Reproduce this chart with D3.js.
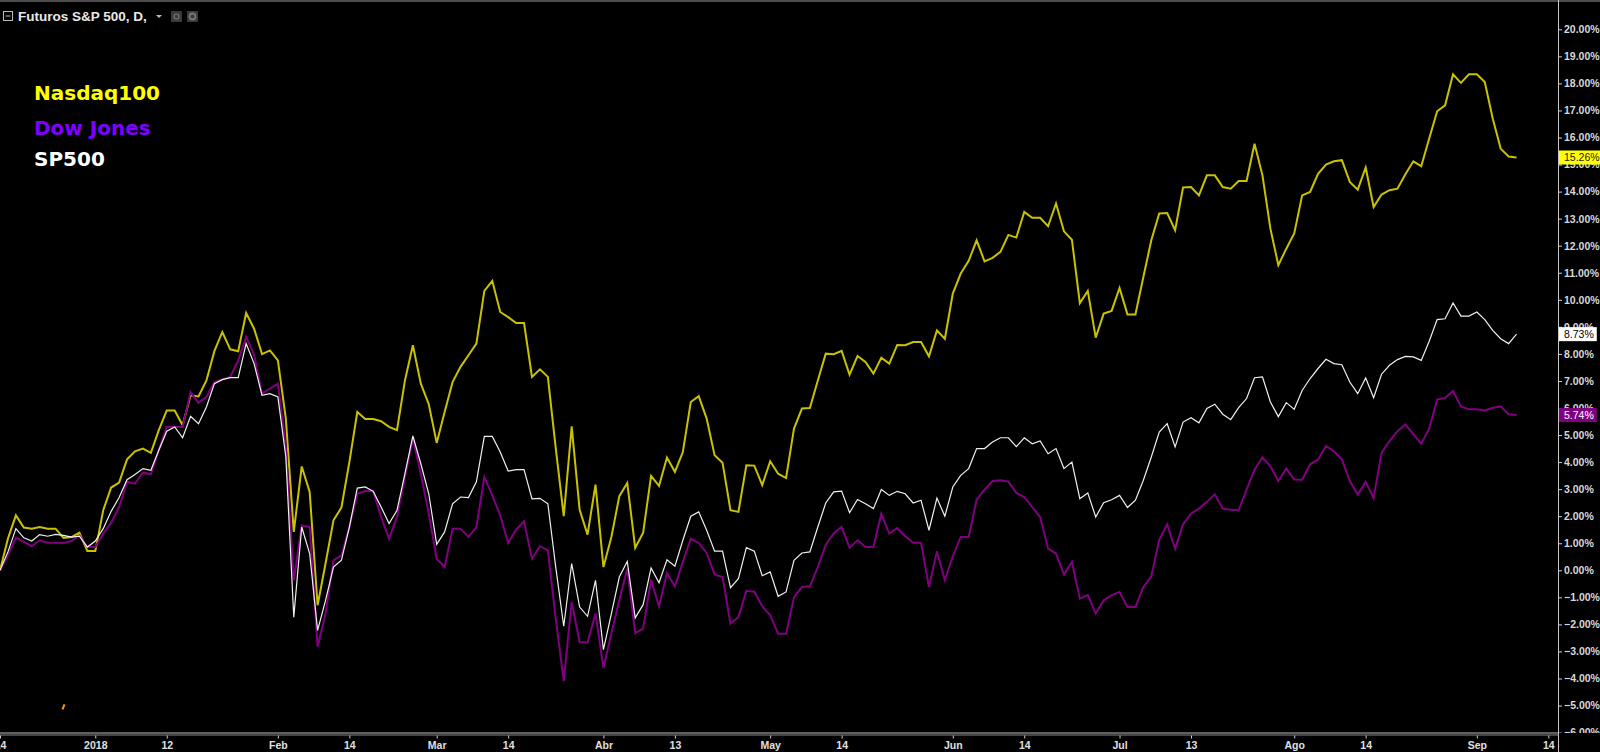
<!DOCTYPE html>
<html>
<head>
<meta charset="utf-8">
<script src="https://cdn.jsdelivr.net/npm/d3@7/dist/d3.min.js"></script>
<style>
html,body{margin:0;padding:0;background:#000;overflow:hidden;}
svg{display:block;}
</style>
</head>
<body>
<svg id="chart" width="1600" height="752"></svg>
<script>
// ---------- DATA (daily bars, % change vs first bar) ----------
const nasdaq100 = [0,1.17,2.03,1.58,1.54,1.6,1.54,1.54,1.2,1.23,1.39,0.71,0.71,2.22,3.06,3.24,4.1,4.4,4.5,4.34,
5.18,5.91,5.91,5.36,6.47,6.43,7.02,8.1,8.81,8.17,8.1,9.51,8.93,7.99,8.13,7.76,5.61,1.42,3.84,2.9,
-1.29,0.25,1.85,2.32,4.0,5.85,5.59,5.59,5.51,5.3,5.18,7.02,8.32,6.9,6.14,4.71,5.85,6.96,7.52,7.95,
8.38,10.33,10.7,9.55,9.36,9.14,9.14,7.15,7.43,7.15,4.5,2.0,5.32,2.24,1.32,3.17,0.12,1.23,2.74,3.23,
0.83,1.39,3.49,3.12,4.17,3.64,4.37,6.22,6.44,5.61,4.25,3.98,2.22,2.16,3.88,3.87,3.15,4.03,3.57,3.41,
5.24,5.98,6.0,7.02,8.01,7.99,8.11,7.23,7.92,7.7,7.27,7.86,7.64,8.33,8.32,8.44,8.44,7.91,8.87,8.56,
10.23,10.97,11.44,12.2,11.42,11.55,11.77,12.4,12.3,13.25,13.03,13.03,12.72,13.56,12.53,12.22,9.88,10.33,8.6,9.49,
9.59,10.44,9.46,9.46,10.84,12.2,13.19,13.21,12.57,14.15,14.17,13.86,14.6,14.6,14.17,14.11,14.39,14.39,15.77,14.6,
12.63,11.28,11.89,12.45,13.86,13.99,14.66,15.0,15.12,15.16,14.36,14.07,14.89,13.43,13.89,14.05,14.11,14.64,15.12,14.94,
15.96,16.97,17.19,18.34,18.02,18.34,18.34,18.05,16.7,15.59,15.3,15.26];

const sp500 = [0,0.68,1.54,1.2,1.08,1.32,1.26,1.33,1.29,1.23,1.26,0.86,1.08,1.54,2.18,2.69,3.35,3.54,3.76,3.7,
4.44,5.14,5.3,4.9,5.69,5.42,6.04,6.9,7.05,7.12,7.12,8.38,7.64,6.47,6.53,6.41,4.19,-1.73,1.6,0.62,
-2.22,-1.11,0.12,0.37,1.6,3.04,3.08,2.92,2.34,1.73,2.22,3.57,4.97,3.94,2.83,0.96,1.42,2.46,2.71,2.69,
3.27,4.95,4.95,4.37,3.67,3.72,3.72,2.64,2.66,2.46,0.1,-2.07,0.25,-1.36,-1.7,-0.37,-2.93,-1.6,-0.25,0.33,
-1.76,-1.27,0.09,-0.46,0.39,0.15,1.11,2.0,2.16,1.48,0.71,0.71,-0.64,-0.31,0.84,0.71,-0.2,-0.06,-0.96,-0.8,
0.37,0.64,0.68,1.6,2.49,2.9,2.93,2.13,2.62,2.46,2.28,2.99,2.77,2.92,2.83,2.49,2.59,1.48,2.67,2.0,
3.08,3.51,3.76,4.5,4.5,4.74,4.9,4.9,4.57,4.9,4.68,4.78,4.31,4.5,3.76,4.0,2.65,2.86,1.97,2.5,
2.61,2.77,2.32,2.59,3.33,4.19,5.11,5.42,4.56,5.48,5.64,5.45,5.98,6.14,5.77,5.57,6.01,6.35,7.12,7.15,
6.22,5.68,6.2,5.95,6.65,7.09,7.46,7.8,7.64,7.6,6.96,6.53,7.11,6.38,7.25,7.58,7.79,7.91,7.89,7.76,
8.47,9.27,9.3,9.88,9.4,9.4,9.55,9.27,8.87,8.56,8.38,8.73];

const dowJones = [0,0.55,1.21,1.05,0.89,1.11,1.02,1.02,1.01,1.08,1.29,0.86,0.86,1.36,1.75,2.34,3.27,3.2,3.61,3.55,
4.44,5.3,5.3,5.3,6.59,6.19,6.41,6.96,7.06,7.15,7.76,8.63,7.97,6.53,6.72,6.9,4.56,-0.37,1.66,1.6,
-2.83,-1.6,0.37,0.55,1.6,2.83,2.93,2.93,1.97,1.17,1.97,3.45,4.87,3.57,2.09,0.43,0.12,1.54,1.54,1.23,
1.6,3.45,2.77,2.03,1.01,1.5,1.81,0.43,0.89,0.74,-1.8,-4.1,-1.17,-2.65,-2.67,-1.6,-3.61,-2.34,-1.11,0.06,
-2.32,-2.16,-0.35,-1.33,-0.1,-0.59,0.31,1.17,1.01,0.64,-0.15,-0.25,-1.97,-1.73,-0.76,-0.79,-1.33,-1.66,-2.35,-2.35,
-0.99,-0.62,-0.59,0.12,0.95,1.36,1.6,0.83,1.11,0.86,0.86,2.09,1.36,1.56,1.26,1.02,1.02,-0.62,0.7,-0.37,
0.52,1.23,1.23,2.61,2.98,3.3,3.33,3.28,2.86,2.71,2.34,1.97,0.8,0.62,-0.16,0.31,-1.05,-0.92,-1.6,-1.11,
-0.92,-0.8,-1.36,-1.36,-0.62,-0.22,1.13,1.7,0.8,1.7,2.09,2.28,2.53,2.81,2.28,2.24,2.22,2.98,3.72,4.17,
3.84,3.3,3.76,3.36,3.35,3.92,4.09,4.6,4.4,4.1,3.3,2.8,3.27,2.67,4.34,4.78,5.14,5.39,5.03,4.68,
5.24,6.31,6.37,6.63,6.06,5.95,5.95,5.91,6.01,6.06,5.77,5.74];

// time-axis ticks: bar index and label
const xTickIndex  = [0,12,21,35,44,55,64,76,85,97,106,120,129,141,150,163,172,186,195];
const xTickLabels = ["14","2018","12","Feb","14","Mar","14","Abr","13","May","14","Jun","14","Jul","13","Ago","14","Sep","14"];

// price-scale ticks (%)
const yTickValues = d3.range(-6, 21, 1);

// legend
const legendNames  = ["Nasdaq100","Dow Jones","SP500"];
const legendColors = ["#ffff00","#8000ff","#ffffff"];

const headerTitle = "Futuros S&P 500, D,";

// stray event marker on the chart
const eventMarkIndex = [8];
const eventMarkValue = [-5.05];

// ---------- LAYOUT ----------
const W = 1600, H = 752;
const axisX = 1558;     // price scale line
const axisY = 733.5;    // time scale line
const svg = d3.select("#chart");

svg.append("rect").attr("width",W).attr("height",H).attr("fill","#000");

const x = d3.scaleLinear().domain([0, 191]).range([0, 191*7.94]);
const y = d3.scaleLinear().domain([-6, 20]).range([732.6, 29.3]);

const defs = svg.append("defs");
defs.append("clipPath").attr("id","plotClip")
  .append("rect").attr("x",0).attr("y",0).attr("width",axisX).attr("height",axisY);
defs.append("clipPath").attr("id","yAxisClip")
  .append("rect").attr("x",axisX-10).attr("y",0).attr("width",W-axisX+10).attr("height",axisY-0.5);

// top border
svg.append("rect").attr("x",0).attr("y",0).attr("width",W).attr("height",2).attr("fill","#4d4d4d");

const plot = svg.append("g").attr("clip-path","url(#plotClip)");

const line = d3.line().x((d,i)=>x(i)).y(d=>y(d));

const seriesDefs = [
  {data: nasdaq100, stroke:"#c9c200", width:2},
  {data: dowJones,  stroke:"#800080", width:2},
  {data: sp500,     stroke:"#f0f0f0", width:1.2}
];
seriesDefs.forEach(s=>{
  plot.append("path").datum(s.data)
    .attr("fill","none").attr("stroke",s.stroke).attr("stroke-width",s.width)
    .attr("stroke-linejoin","miter").attr("d",line);
});

// event marker
eventMarkIndex.forEach((idx,k)=>{
  const cx = x(idx), cy = y(eventMarkValue[k]);
  plot.append("line").attr("x1",cx-1).attr("y1",cy+2.5).attr("x2",cx+1).attr("y2",cy-2.5)
    .attr("stroke","#ff9800").attr("stroke-width",2);
});

// ---------- PRICE AXIS ----------
const yAxisWrap = svg.append("g").attr("clip-path","url(#yAxisClip)");
const yAxisG = yAxisWrap.append("g").attr("transform",`translate(${axisX},0)`);
yAxisG.call(d3.axisRight(y).tickValues(yTickValues).tickFormat(v=>d3.format(".2f")(v)+"%").tickSize(4).tickPadding(2));
yAxisG.select(".domain").remove();
yAxisG.selectAll(".tick line").attr("stroke","#cfcfcf");
yAxisG.selectAll(".tick text").attr("fill","#d8d8d8")
  .style("font-family","'Liberation Sans', Arial, sans-serif").style("font-size","10.5px").style("font-weight","bold");
svg.append("line").attr("x1",axisX+0.5).attr("x2",axisX+0.5).attr("y1",0).attr("y2",H)
  .attr("stroke","#c8c8c8").attr("stroke-width",1);

// ---------- TIME AXIS ----------
svg.append("line").attr("x1",0).attr("x2",axisX).attr("y1",axisY-0.5).attr("y2",axisY-0.5).attr("stroke","#bdbdbd").attr("stroke-width",1);
svg.append("line").attr("x1",0).attr("x2",axisX).attr("y1",axisY+1.5).attr("y2",axisY+1.5).attr("stroke","#8a8a8a").attr("stroke-width",1);
const xAxisG = svg.append("g").attr("transform",`translate(0,${axisY+2})`);
xAxisG.call(d3.axisBottom(x).tickValues(xTickIndex).tickFormat((d,i)=>xTickLabels[i]).tickSize(3).tickPadding(3));
xAxisG.select(".domain").remove();
xAxisG.selectAll(".tick line").attr("stroke","#cfcfcf");
xAxisG.selectAll(".tick text").attr("fill","#e0e0e0")
  .style("font-family","'Liberation Sans', Arial, sans-serif").style("font-size","10.5px").style("font-weight","bold");

// ---------- LAST-VALUE LABELS ----------
const lastLabels = [
  {v: nasdaq100[nasdaq100.length-1], bg:"#ffff00", fg:"#202020"},
  {v: sp500[sp500.length-1],         bg:"#ffffff", fg:"#000000"},
  {v: dowJones[dowJones.length-1],   bg:"#800080", fg:"#ffffff"}
];
lastLabels.forEach(l=>{
  const g = svg.append("g");
  const cy = y(l.v);
  const r = g.append("rect").attr("x",axisX+1).attr("y",cy-7).attr("height",14).attr("fill",l.bg);
  const t = g.append("text").attr("x",axisX+6).attr("y",cy).attr("dy","0.36em").attr("fill",l.fg)
    .style("font-family","'Liberation Sans', Arial, sans-serif").style("font-size","10.5px")
    .text(d3.format(".2f")(l.v)+"%");
  r.attr("width", t.node().getComputedTextLength()+8);
});

// ---------- LEGEND ----------
const legendY = [100, 135, 166];
legendNames.forEach((n,i)=>{
  svg.append("text").attr("x",34).attr("y",legendY[i]).attr("fill",legendColors[i])
    .style("font-family","'DejaVu Sans', sans-serif").style("font-weight","bold").style("font-size","20px")
    .text(n);
});

// ---------- HEADER ----------
const hdr = svg.append("g");
hdr.append("rect").attr("x",3.5).attr("y",11.5).attr("width",9).attr("height",9).attr("fill","none").attr("stroke","#bbbbbb");
hdr.append("line").attr("x1",5.5).attr("x2",10.5).attr("y1",16).attr("y2",16).attr("stroke","#bbbbbb");
hdr.append("text").attr("x",18).attr("y",21).attr("fill","#e8e8e8")
  .style("font-family","'Liberation Sans', Arial, sans-serif").style("font-size","13.5px").style("font-weight","bold")
  .text(headerTitle);
hdr.append("path").attr("d","M156,15 L162,15 L159,18 Z").attr("fill","#bbbbbb");
[171,187].forEach((px,k)=>{
  hdr.append("rect").attr("x",px).attr("y",11).attr("width",11).attr("height",11).attr("fill","#3a3a3a");
  hdr.append("circle").attr("cx",px+5.5).attr("cy",16.5).attr("r",k===0?2.5:3).attr("fill","none").attr("stroke","#777").attr("stroke-width",k===0?1.2:1.8);
});
</script>
</body>
</html>
